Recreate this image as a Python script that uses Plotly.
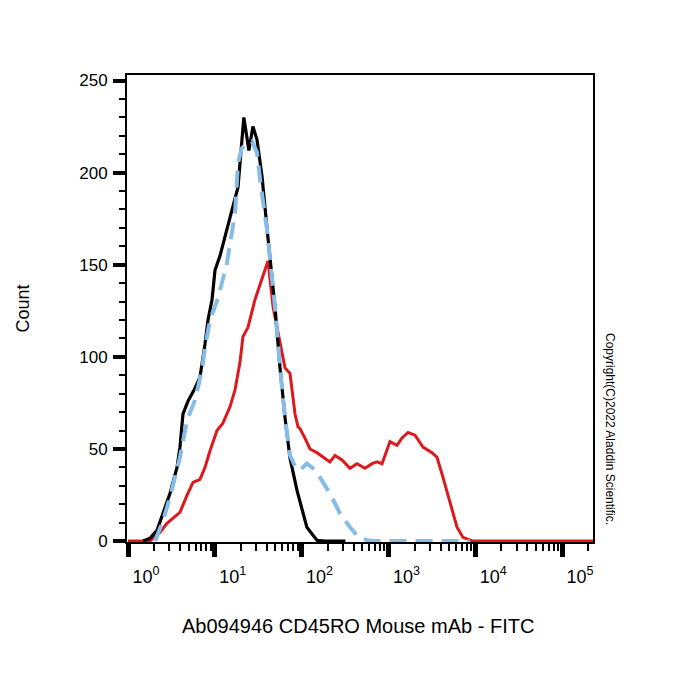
import plotly.graph_objects as go

# Black curve (unstained / isotype)
black_x = [1.5, 1.79, 2.16, 2.53, 3.05, 3.67, 3.97, 4.30, 4.91, 5.91, 6.75, 7.71, 8.35, 9.29,
           10.05, 11.5, 13.8, 17.1, 18.5, 20.0, 21.6, 24.7, 27.5, 30.6, 35.0, 39.9, 43.3, 49.4,
           56.4, 64.4, 73.5, 88.5, 115, 150, 186, 320]
black_y = [0, 1.5, 5.8, 15, 26, 40, 51, 69, 76, 83, 89, 107, 120, 131,
           147, 155, 170, 186, 192, 212, 230, 212, 225, 218, 198, 170, 154, 127,
           94, 67, 45, 27.5, 7.5, 0.4, 0, 0]

# Red curve (stained sample)
red_x = [1, 1.79, 1.94, 2.34, 2.81, 3.30, 3.97, 4.78, 5.61, 6.75, 7.71, 8.81, 10.6, 12.4, 15.0,
         17.1, 19.5, 21.1, 24.1, 29.0, 35.0, 41.0, 46.9, 53.5, 64.4, 73.5, 84.0, 90.9, 95.9,
         109, 125, 150, 177, 212, 243, 292, 361, 435, 537, 647, 739, 844, 1043, 1256, 1435,
         1683, 2024, 2504, 3179, 3631, 4255, 5124, 6170, 7229, 9437, 229000]
red_y = [0, 0, 1.5, 4.7, 9.6, 12.3, 15.6, 24.8, 31.9, 33.5, 40, 49, 60, 64, 73,
         82, 97, 111, 116, 131, 142, 152, 127, 113, 94, 91, 69, 62, 61,
         56, 50, 48, 45.5, 43, 46.5, 44, 39.5, 42, 39.5, 42, 43, 42, 54, 52, 56,
         59, 57.5, 51, 48, 45.5, 34.6, 20.5, 7.5, 2, 0, 0]

# Blue dashed curve
blue_x = [2.05, 2.53, 3.05, 3.97, 4.78, 5.91, 7.12, 7.71, 8.81, 10.9, 13.8, 17.1, 18.5,
          20.3, 23.5, 26.8, 30.6, 33.7, 39.9, 43.3, 49.4, 56.4, 64.4, 73.5, 84, 96, 115, 135,
          150, 212, 277, 361, 435, 567, 701, 8700]
blue_y = [0, 11, 24, 45.5, 65.6, 76.5, 93, 105, 120, 132, 151, 178, 205,
          213, 216, 217, 211, 194, 169, 154, 127, 94, 67, 46.6, 40.6, 38.4, 42.2, 39.5,
          37.3, 25.9, 15, 7.5, 3.1, 0.4, 0, 0]

x_tickvals = [1, 10, 100, 1000, 10000, 100000]
x_ticktext = ["10<sup>0</sup>", "10<sup>1</sup>", "10<sup>2</sup>", "10<sup>3</sup>",
              "10<sup>4</sup>", "10<sup>5</sup>"]
y_tickvals = [0, 50, 100, 150, 200, 250]

x_title = "Ab094946 CD45RO Mouse mAb - FITC"
y_title = "Count"
copyright_text = "Copyright(C)2022 Aladdin Scientific."

FONT = "Liberation Sans, Arial, Helvetica, sans-serif"

fig = go.Figure()
fig.add_trace(go.Scatter(x=red_x, y=red_y, mode="lines",
                         line=dict(color="#dc1a1e", width=3), hoverinfo="skip"))
fig.add_trace(go.Scatter(x=black_x, y=black_y, mode="lines",
                         line=dict(color="#000000", width=3.2), hoverinfo="skip"))
fig.add_trace(go.Scatter(x=blue_x, y=blue_y, mode="lines",
                         line=dict(color="#86bce8", width=4, dash="17px,9px"), hoverinfo="skip"))

fig.update_layout(
    width=700, height=700,
    margin=dict(l=127, r=107, t=75, b=158),
    paper_bgcolor="white", plot_bgcolor="white",
    showlegend=False,
    font=dict(family=FONT, color="black"),
)

fig.update_xaxes(
    type="log", range=[-0.0115, 5.357],
    showgrid=False, zeroline=False,
    showline=True, linecolor="black", linewidth=2, mirror=True,
    tickmode="array", tickvals=x_tickvals, ticktext=x_ticktext,
    ticks="outside", ticklen=13, tickwidth=5, tickcolor="black",
    ticklabelshift=18, ticklabelstandoff=4,
    tickfont=dict(size=18, family=FONT, color="black"),
    minor=dict(ticks="outside", ticklen=7, tickwidth=2, tickcolor="black", dtick="D1"),
)

fig.update_yaxes(
    range=[-0.5, 253],
    showgrid=False, zeroline=False,
    showline=True, linecolor="black", linewidth=2, mirror=True,
    tickmode="array", tickvals=y_tickvals,
    ticks="outside", ticklen=12, tickwidth=4, tickcolor="black",
    ticklabelstandoff=2,
    tickfont=dict(size=17, family=FONT, color="black"),
    minor=dict(ticks="outside", ticklen=6, tickwidth=2, tickcolor="black", dtick=10),
)

fig.add_annotation(text=x_title, xref="paper", yref="paper", x=0.4957, y=-0.18,
                   xanchor="center", yanchor="middle", showarrow=False,
                   font=dict(size=20, family=FONT, color="black"))
fig.add_annotation(text=y_title, xref="paper", yref="paper", x=-0.2253, y=0.5,
                   xanchor="center", yanchor="middle", showarrow=False, textangle=-90,
                   font=dict(size=18, family=FONT, color="black"))
fig.add_annotation(text=copyright_text, xref="paper", yref="paper", x=1.0365, y=0.242,
                   xanchor="center", yanchor="middle", showarrow=False, textangle=90,
                   font=dict(size=12, family=FONT, color="black"))

fig.write_html("out.html")
